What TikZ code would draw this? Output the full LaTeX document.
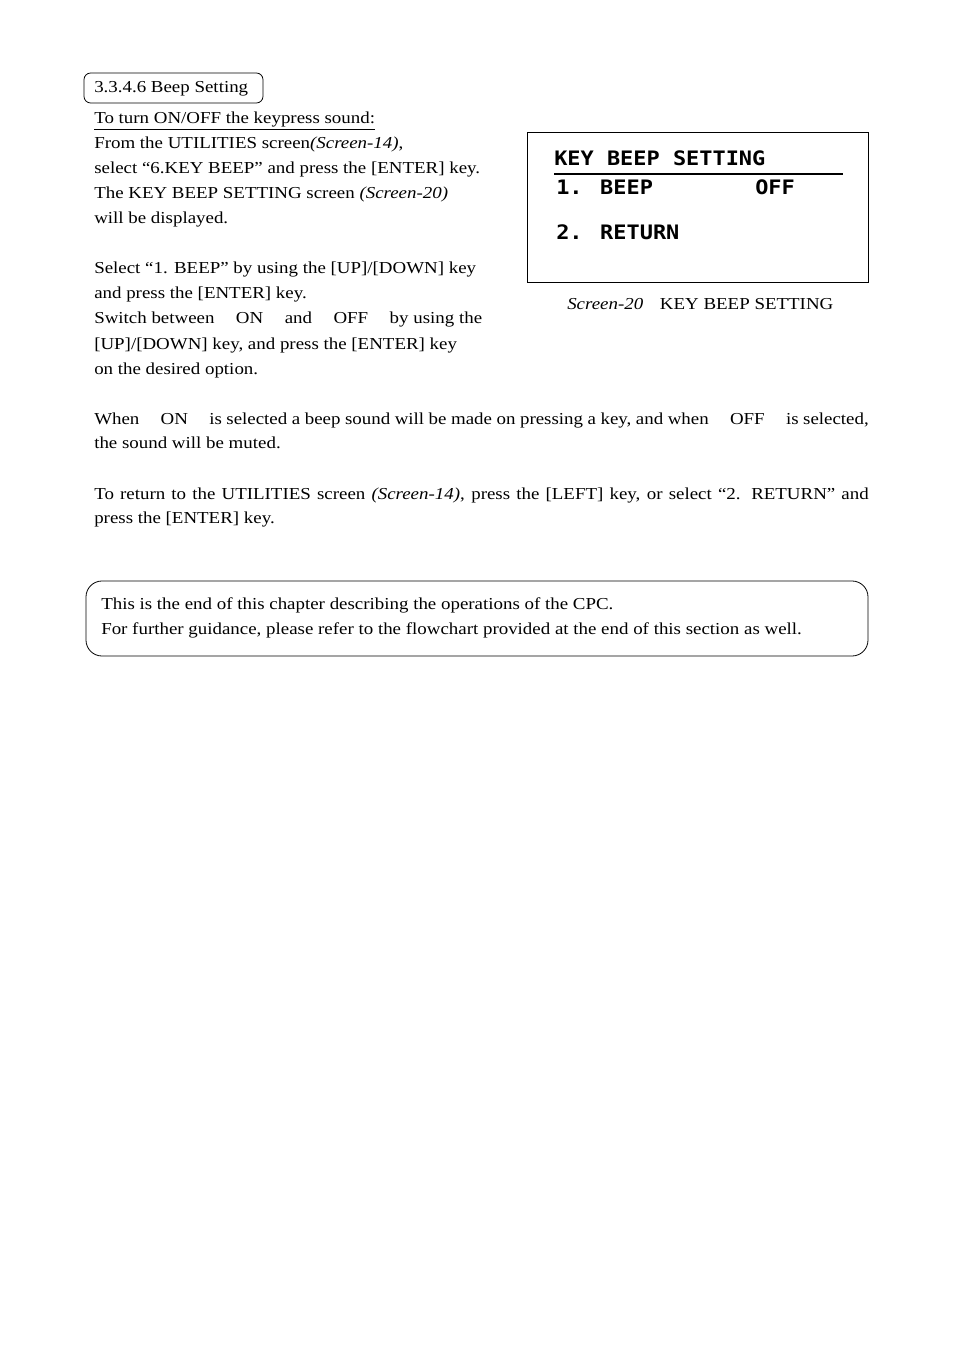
\documentclass[tikz,border=0pt]{standalone}
\usepackage{fontspec}
\setmainfont[FakeStretch=1.13]{Liberation Serif}
\newfontfamily\lcdfont[FakeStretch=1.1]{DejaVu Sans Mono}
\tikzset{
  txt/.style={anchor=base west, inner sep=0pt, font=\fontsize{12.6}{15}\selectfont},
  lcd/.style={anchor=base west, inner sep=0pt, font=\lcdfont\bfseries\fontsize{15}{16}\selectfont}
}
\begin{document}
\begin{tikzpicture}[x=0.0264583cm, y=-0.0264583cm]
  \useasboundingbox (0,0) rectangle (954,1351);
  % section title
  \draw[semithick, rounded corners=5] (84,73) rectangle (263,103);
  \node[txt] (title) at (94,93) {3.3.4.6 Beep Setting};
  \node[txt] (head) at (94,124) {\underline{To turn ON/OFF the keypress sound:}};
  \node[txt] (l1) at (94,149) {From the UTILITIES screen\textit{(Screen-14)},};
  \node[txt] (l2) at (94,174) {select “6.KEY BEEP” and press the [ENTER] key.};
  \node[txt] (l3) at (94,199) {The KEY BEEP SETTING screen \textit{(Screen-20)}};
  \node[txt] (l4) at (94,224) {will be displayed.};
  \node[txt] (l5) at (94,274) {Select “1. BEEP” by using the [UP]/[DOWN] key};
  \node[txt] (l6) at (94,299) {and press the [ENTER] key.};
  \node[txt] (l7) at (94,324) {Switch between \quad ON \quad and \quad OFF \quad by using the};
  \node[txt] (l8) at (94,349) {[UP]/[DOWN] key, and press the [ENTER] key};
  \node[txt] (l9) at (94,374) {on the desired option.};
  % screen
  \draw (527,132) rectangle (868,282);
  \node[lcd] (s1) at (554,166) {KEY BEEP SETTING};
  \draw[line width=1.5pt] (554,174) -- (843,174);
  \node[lcd] (s2) at (556,195) {1. BEEP};
  \node[lcd] (s3) at (755,195) {OFF};
  \node[lcd] (s4) at (556,240) {2. RETURN};
  \node[txt] (cap) at (567,310) {\textit{Screen-20}\quad KEY BEEP SETTING};
  % body
  \node[txt, text width=774.5*0.0264583cm, align=justify, font=\fontsize{12.6}{18.75}\selectfont] (p1) at (94,424)
    {When \quad ON \quad is selected a beep sound will be made on pressing a key, and when \quad OFF \quad is selected, the sound will be muted.};
  \node[txt, text width=774.5*0.0264583cm, align=justify, font=\fontsize{12.6}{18.75}\selectfont] (p2) at (94,499)
    {To return to the UTILITIES screen \textit{(Screen-14)}, press the [LEFT] key, or select “2. RETURN” and press the [ENTER] key.};
  % closing box
  \draw[semithick, rounded corners=12] (86,581) rectangle (868,656);
  \node[txt] (e1) at (101,609) {This is the end of this chapter describing the operations of the CPC.};
  \node[txt] (e2) at (101,634) {For further guidance, please refer to the flowchart provided at the end of this section as well.};
\end{tikzpicture}
\end{document}
